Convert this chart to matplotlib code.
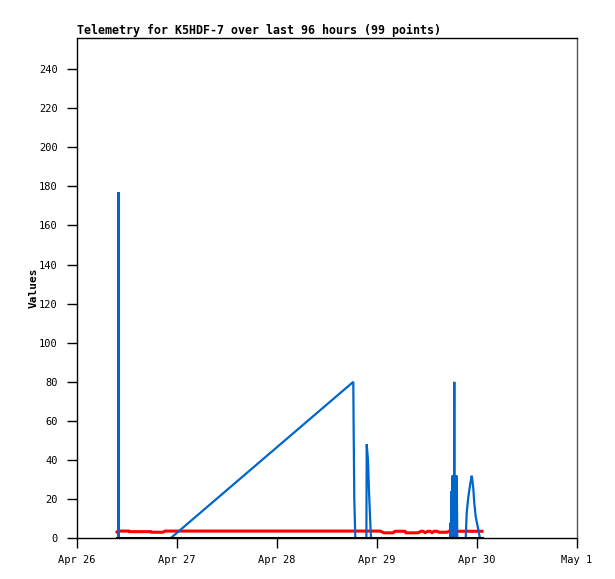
import matplotlib
matplotlib.use("Agg")
import matplotlib.pyplot as plt

# hours since Apr 26 00:00
red_t = [9.6, 9.84, 12.48, 12.6, 17.76, 17.9, 20.64, 21.12, 72.72, 73.68, 75.84, 76.32, 78.72, 78.96,
         81.84, 82.56, 83.04, 83.52, 84.24, 84.72, 85.2, 85.68, 86.4, 86.88, 88.8, 89.28, 97.2]
red_v = [3.2, 3.7, 3.7, 3.4, 3.4, 3.1, 3.1, 3.7, 3.7, 2.8, 2.8, 3.6, 3.6, 2.8,
         2.8, 3.6, 3.6, 2.9, 3.6, 3.6, 2.9, 3.6, 3.6, 3.1, 3.1, 3.6, 3.6]

blue_t = [9.90, 9.96, 10.02, 22.44, 66.31, 66.38, 66.55, 66.80,
          69.45, 69.53, 69.84, 70.08, 70.39, 70.56,
          89.52, 89.64, 89.76, 89.85, 89.95, 90.07, 90.18, 90.30, 90.42, 90.50, 90.55, 90.62,
          90.72, 90.84, 90.95, 91.05, 91.13, 91.27,
          93.29, 93.53, 93.91, 94.32, 94.73, 94.87, 95.11, 95.35, 95.69, 96.17, 96.48, 96.72, 97.2]
blue_v = [0, 177, 0, 0, 80, 60, 20, 0,
          0, 48, 40, 24, 8, 0,
          0, 8, 0, 24, 0, 32, 0, 32, 0, 32, 80, 0,
          32, 0, 32, 0, 32, 0,
          0, 13, 21, 27, 32, 30, 25.5, 18, 11, 6, 2.5, 0, 0]

black_t = [9.6, 97.2]
black_v = [0, 0]

xticks = [0, 24, 48, 72, 96, 120]
xlabels = ["Apr 26", "Apr 27", "Apr 28", "Apr 29", "Apr 30", "May 1"]
yticks = list(range(0, 241, 20))

W, H = 615, 579
fig = plt.figure(figsize=(W / 100, H / 100), dpi=100)
ax = fig.add_axes([77 / W, 1 - 538.3 / H, 500 / W, (538.3 - 37.7) / H])

ax.plot(red_t, red_v, color="#ff0000", lw=2.2, solid_joinstyle="miter", zorder=2)
ax.plot(blue_t, blue_v, color="#0066cc", lw=1.6, solid_joinstyle="miter", zorder=3)
ax.plot(black_t, black_v, color="black", lw=2.2, zorder=4)

ax.set_xlim(0, 120)
ax.set_ylim(0, 256)
ax.set_xticks(xticks)
ax.set_xticklabels(xlabels)
ax.set_yticks(yticks)

mono = "DejaVu Sans Mono"
for lab in ax.get_xticklabels() + ax.get_yticklabels():
    lab.set_fontfamily(mono)
    lab.set_fontsize(7.5)
ax.tick_params(axis="both", direction="out", length=7, width=1, colors="black", pad=5)
ax.tick_params(axis="y", pad=7)

for s in ["left", "bottom", "top"]:
    ax.spines[s].set_color("black")
    ax.spines[s].set_linewidth(1)
ax.spines["right"].set_color("#555555")
ax.spines["right"].set_linewidth(1)

ax.set_ylabel("Values", fontfamily=mono, fontweight="bold", fontsize=8, labelpad=0)
ax.set_title("Telemetry for K5HDF-7 over last 96 hours (99 points)", loc="left",
             fontfamily=mono, fontweight="bold", fontsize=8.4, pad=3)

fig.savefig("out.png", dpi=100)
